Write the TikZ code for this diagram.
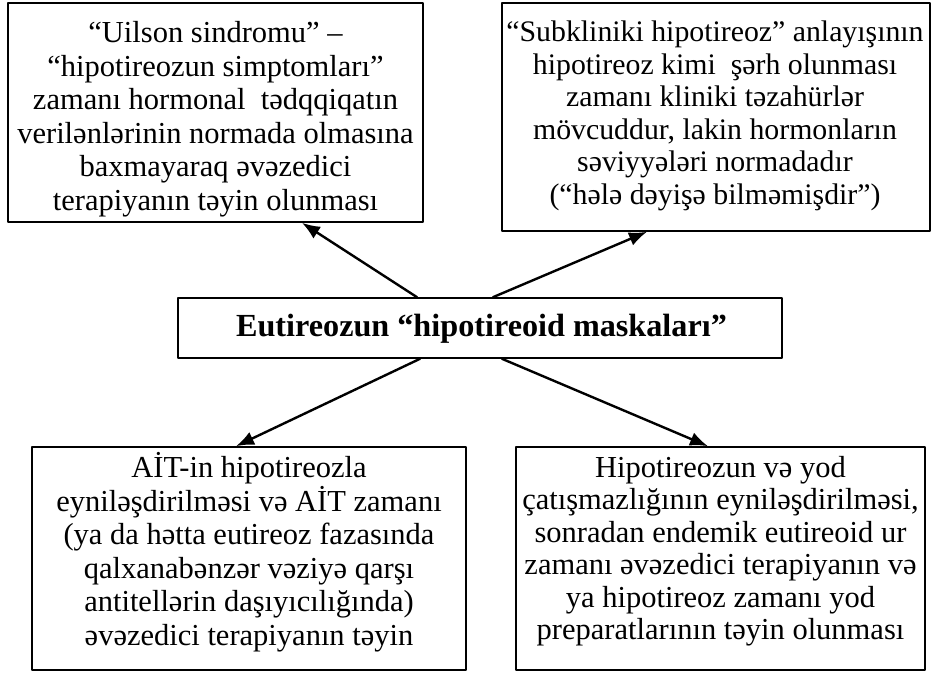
\documentclass[tikz,border=0pt]{standalone}
\usepackage{fontspec}
\setmainfont{Liberation Serif}
\usetikzlibrary{arrows.meta}

\begin{document}
\begin{tikzpicture}[x=1pt,y=-1pt,line cap=round,line join=round,>={Latex[length=18pt,width=14pt]},
  frame/.style={draw,line width=1.6pt,inner sep=0pt},
  txt/.style={align=center,inner sep=0pt,font=\fontsize{30.5}{33.5}\selectfont},
  link/.style={->,line width=2.4pt}]
      \useasboundingbox (0,0) rectangle (935,676);
      \node[frame,minimum width=415,minimum height=219] (uilson) at (215.5,112.5) {};
      \node[frame,minimum width=428,minimum height=228] (subkl) at (716,117) {};
      \node[frame,minimum width=604,minimum height=60] (mask) at (480,328) {};
      \node[frame,minimum width=434,minimum height=223] (ait) at (249,558.5) {};
      \node[frame,minimum width=409,minimum height=223] (hipo) at (720.5,558.5) {};
      \node[txt] (uilsontxt) at (215.5,119) {“Uilson sindromu” –\\“hipotireozun simptomları”\\zamanı hormonal\ \ tədqqiqatın\\verilənlərinin normada olmasına\\baxmayaraq əvəzedici\\terapiyanın təyin olunması};
      \node[txt,font=\fontsize{29.8}{32.5}\selectfont] (subkltxt) at (715,116) {“Subkliniki hipotireoz” anlayışının\\hipotireoz kimi\ \ şərh olunması\\zamanı kliniki təzahürlər\\mövcuddur, lakin hormonların\\səviyyələri normadadır\\(“hələ dəyişə bilməmişdir”)};
      \node[txt,font=\bfseries\fontsize{32.2}{36}\selectfont] (masktxt) at (481.5,329) {Eutireozun “hipotireoid maskaları”};
      \node[txt] (aittxt) at (249,552) {AİT-in hipotireozla\\eyniləşdirilməsi və AİT zamanı\\(ya da hətta eutireoz fazasında\\qalxanabənzər vəziyə qarşı\\antitellərin daşıyıcılığında)\\əvəzedici terapiyanın təyin};
      \node[txt,font=\fontsize{30.5}{32.5}\selectfont] (hipotxt) at (720.5,551) {Hipotireozun və yod\\çatışmazlığının eyniləşdirilməsi,\\sonradan endemik eutireoid ur\\zamanı əvəzedici terapiyanın və\\ya hipotireoz zamanı yod\\preparatlarının təyin olunması};
      \draw[link] ([xshift=-63pt]mask.north) -- ([xshift=86.5pt]uilson.south);
      \draw[link] ([xshift=13pt]mask.north) -- ([xshift=-69pt]subkl.south);
      \draw[link] ([xshift=-60pt]mask.south) -- ([xshift=-13pt]ait.north);
      \draw[link] ([xshift=22pt]mask.south) -- ([xshift=-12.5pt]hipo.north);
\end{tikzpicture}
\end{document}
